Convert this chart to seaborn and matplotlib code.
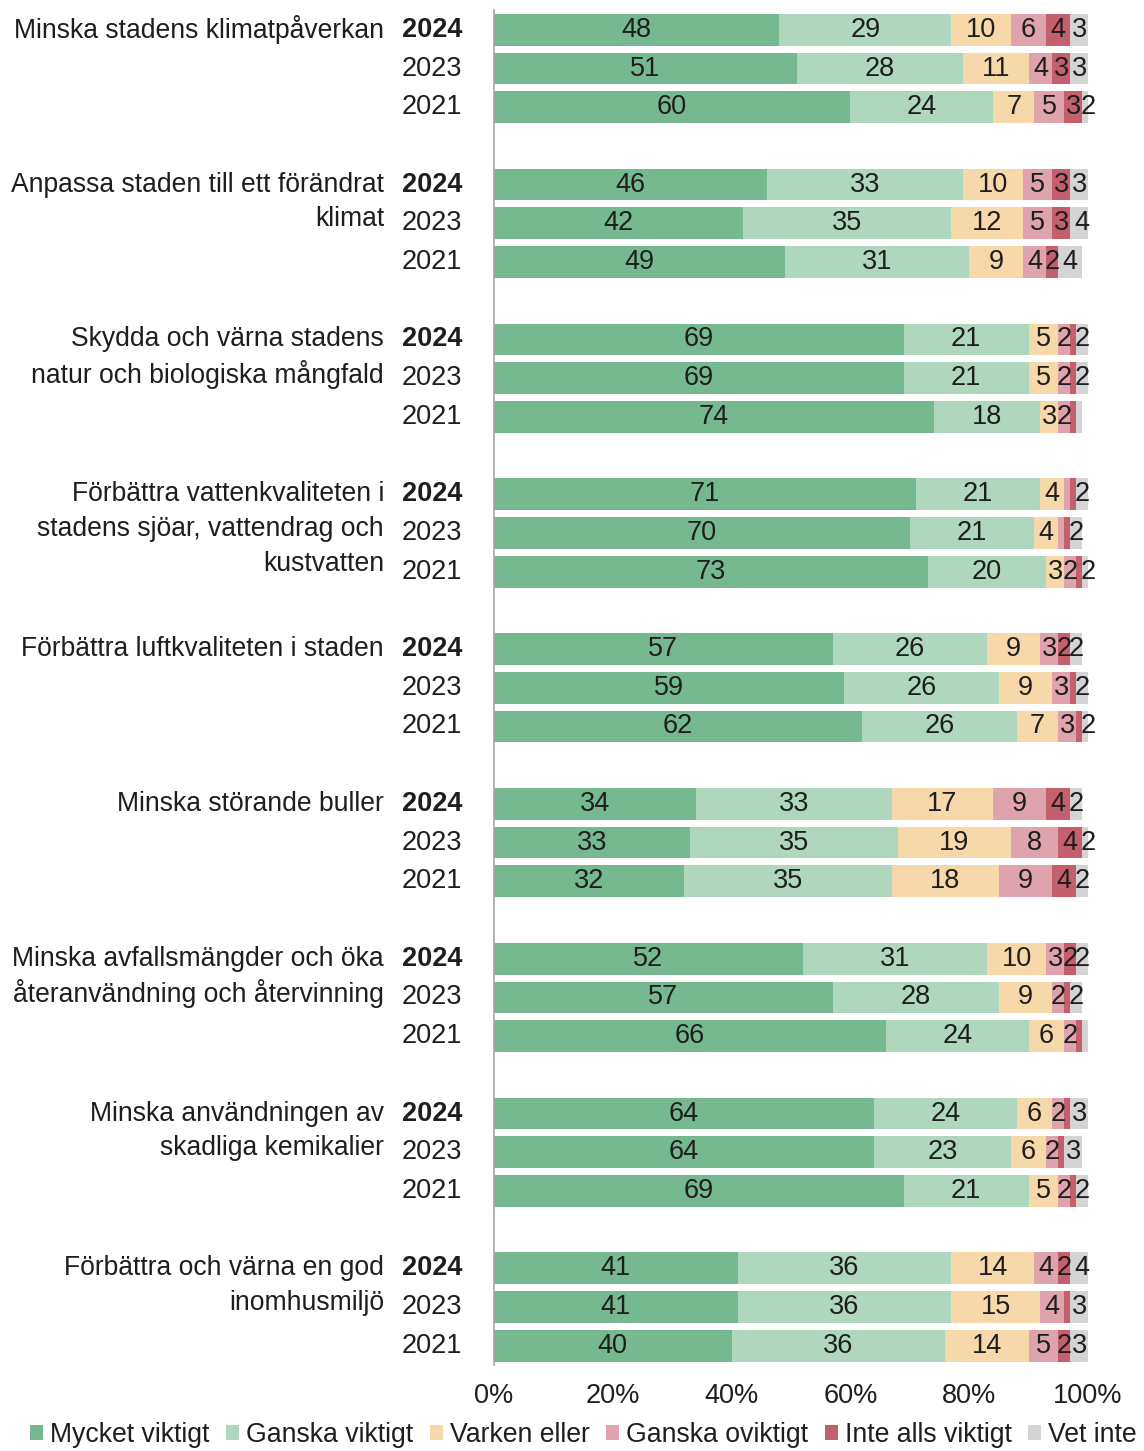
import numpy as np
import pandas as pd
import matplotlib
matplotlib.use("Agg")
import matplotlib.pyplot as plt
from matplotlib.patches import Patch
import seaborn as sns

# ==========================================
# Data
# ==========================================

categories = [
    "Minska stadens klimatpåverkan",
    "Anpassa staden till ett förändrat\nklimat",
    "Skydda och värna stadens\nnatur och biologiska mångfald",
    "Förbättra vattenkvaliteten i\nstadens sjöar, vattendrag och\nkustvatten",
    "Förbättra luftkvaliteten i staden",
    "Minska störande buller",
    "Minska avfallsmängder och öka\nåteranvändning och återvinning",
    "Minska användningen av\nskadliga kemikalier",
    "Förbättra och värna en god\ninomhusmiljö",
]
years = ["2024", "2023", "2021"]
responses = ["Mycket viktigt", "Ganska viktigt", "Varken eller",
             "Ganska oviktigt", "Inte alls viktigt", "Vet inte"]

# one value per category x year (2024, 2023, 2021)
mycket = [48, 51, 60, 46, 42, 49, 69, 69, 74, 71, 70, 73, 57, 59, 62,
          34, 33, 32, 52, 57, 66, 64, 64, 69, 41, 41, 40]
ganska = [29, 28, 24, 33, 35, 31, 21, 21, 18, 21, 21, 20, 26, 26, 26,
          33, 35, 35, 31, 28, 24, 24, 23, 21, 36, 36, 36]
varken = [10, 11, 7, 10, 12, 9, 5, 5, 3, 4, 4, 3, 9, 9, 7,
          17, 19, 18, 10, 9, 6, 6, 6, 5, 14, 15, 14]
oviktigt = [6, 4, 5, 5, 5, 4, 2, 2, 2, 1, 1, 2, 3, 3, 3,
            9, 8, 9, 3, 2, 2, 2, 2, 2, 4, 4, 5]
inte_alls = [4, 3, 3, 3, 3, 2, 1, 1, 1, 1, 1, 1, 2, 1, 1,
             4, 4, 4, 2, 1, 1, 1, 1, 1, 2, 1, 2]
vet_inte = [3, 3, 2, 3, 4, 4, 2, 2, 1, 2, 2, 2, 2, 2, 2,
            2, 2, 2, 2, 2, 1, 3, 3, 2, 4, 3, 3]

colors = ["#76B990", "#AED7BD", "#F6D8AA", "#DEA3AC", "#C4606E", "#D4D4D4"]
text_color = "#1e1e1e"
fs = 19.5

# ==========================================
# Prepare rows
# ==========================================

order = []
for g in range(len(categories)):
    for yr in years:
        order.append(f"{g}_{yr}")
    if g < len(categories) - 1:
        order.append(f"gap{g}")

df = pd.DataFrame({
    "row": [f"{g}_{yr}" for g in range(len(categories)) for yr in years],
})
values = np.array([mycket, ganska, varken, oviktigt, inte_alls, vet_inte]).T
cum = values.cumsum(axis=1)

# ==========================================
# Plot
# ==========================================

sns.set_theme(style="white")
plt.rcParams["font.family"] = ["Liberation Sans", "DejaVu Sans"]

fig = plt.figure(figsize=(11.44, 14.51), dpi=100)
ax = fig.add_axes([0.4318, 0.0592, 0.5192, 0.9336])

# overlay cumulative bars, widest first
for k in range(5, -1, -1):
    df["x"] = cum[:, k]
    sns.barplot(data=df, x="x", y="row", order=order, color=colors[k],
                saturation=1, width=0.82, errorbar=None,
                edgecolor="none", linewidth=0, ax=ax)

# segment labels
for i, row in enumerate(df["row"]):
    pos = order.index(row)
    for k in range(6):
        v = values[i, k]
        if v >= 2:
            ax.text(cum[i, k] - v / 2, pos, str(v), ha="center", va="center",
                    fontsize=fs, color=text_color)

# year and category labels
for g, cat in enumerate(categories):
    for j, yr in enumerate(years):
        pos = order.index(f"{g}_{yr}")
        ax.text(-0.054, pos, yr, transform=ax.get_yaxis_transform(),
                ha="right", va="center", fontsize=fs, color=text_color,
                fontweight="bold" if j == 0 else "normal")
    pos = order.index(f"{g}_2024")
    for n, line in enumerate(cat.split("\n")):
        ax.text(-0.185, pos + n * 0.9, line, transform=ax.get_yaxis_transform(),
                ha="right", va="center", fontsize=19.1, color=text_color)

ax.set_xlim(0, 100)
ax.set_xticks(range(0, 101, 20))
ax.set_xticklabels([f"{t}%" for t in range(0, 101, 20)], fontsize=fs,
                   color=text_color)
ax.tick_params(axis="x", length=0, pad=13)
ax.set_yticks([])
ax.set_xlabel("")
ax.set_ylabel("")
sns.despine(ax=ax, left=False, bottom=True)
ax.spines["left"].set_color("#A6A6A6")
ax.spines["left"].set_linewidth(1.2)

handles = [Patch(facecolor=c, edgecolor="none") for c in colors]
fig.legend(handles, responses, loc="lower left", bbox_to_anchor=(0.024, 0.0),
           ncol=6, frameon=False, fontsize=19.2, handlelength=0.5,
           handleheight=0.5, handletextpad=0.25, columnspacing=0.62,
           borderpad=0.1, borderaxespad=0, labelcolor=text_color)

fig.savefig("out.png", dpi=100)
